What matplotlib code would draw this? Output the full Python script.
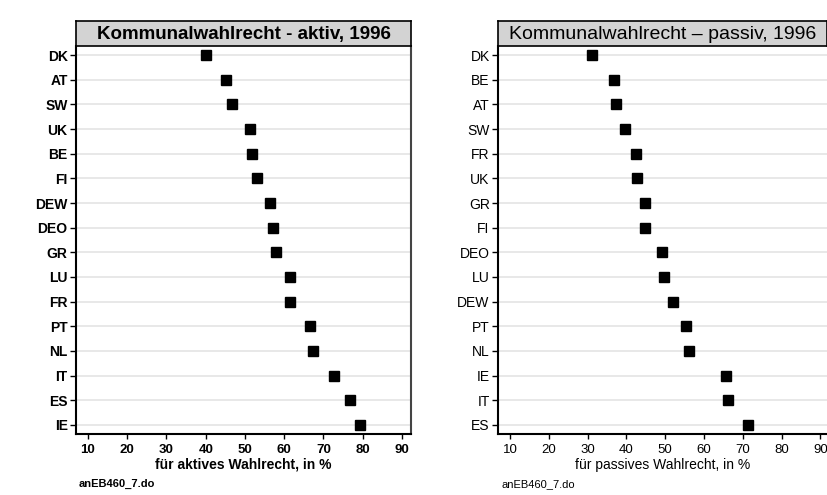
import matplotlib.pyplot as plt
import numpy as np

# left panel: active voting right
land_aktiv = ['DK', 'AT', 'SW', 'UK', 'BE', 'FI', 'DEW', 'DEO',
              'GR', 'LU', 'FR', 'PT', 'NL', 'IT', 'ES', 'IE']
wert_aktiv = [40.0, 45.1, 46.6, 51.3, 51.9, 53.0, 56.5, 57.2,
              57.8, 61.4, 61.5, 66.5, 67.3, 72.7, 76.8, 79.2]

# right panel: passive voting right
land_passiv = ['DK', 'BE', 'AT', 'SW', 'FR', 'UK', 'GR', 'FI',
               'DEO', 'LU', 'DEW', 'PT', 'NL', 'IE', 'IT', 'ES']
wert_passiv = [31.1, 36.7, 37.2, 39.6, 42.5, 42.6, 44.7, 44.8,
               49.1, 49.8, 52.1, 55.4, 56.2, 65.7, 66.1, 71.4]

xticks = [10, 20, 30, 40, 50, 60, 70, 80, 90]

W, H = 827, 495
fig = plt.figure(figsize=(W / 100, H / 100), dpi=100)


def panel(x0, x1, y_top, y_bot, box_top, labels, vals, title, xlabel, note,
          weight, xlim, right_spine, title_size):
    ax = fig.add_axes([x0 / W, 1 - y_bot / H, (x1 - x0) / W, (y_bot - y_top) / H])
    y = np.arange(len(labels))
    for yy in y:
        ax.axhline(yy, color='#e4e4e4', lw=1.2, zorder=1)
    ax.plot(vals, y, 's', color='black', ms=7.2, zorder=3)
    ax.set_ylim(len(labels) - 1 + 0.37, -0.37)
    ax.set_xlim(*xlim)
    ax.set_yticks(y)
    ax.set_yticklabels(labels, fontsize=10, fontweight=weight)
    ax.set_xticks(xticks)
    ax.set_xticklabels([str(t) for t in xticks], fontsize=9.5, fontweight=weight)
    ax.tick_params(axis='y', length=4.5, width=1, pad=1.5)
    ax.tick_params(axis='x', length=3.5, width=1, pad=4)
    ax.set_xlabel(xlabel, fontsize=10, fontweight=weight, labelpad=1)
    ax.spines['top'].set_visible(False)
    ax.spines['left'].set_linewidth(1.5)
    ax.spines['bottom'].set_linewidth(1.5)
    if right_spine:
        ax.spines['right'].set_color('#444444')
        ax.spines['right'].set_linewidth(1.5)
    else:
        ax.spines['right'].set_visible(False)

    # grey title box on top of the plot region
    tb = fig.add_axes([x0 / W, 1 - y_top / H, (x1 - x0) / W, (y_top - box_top) / H])
    tb.set_facecolor('#d3d3d3')
    tb.set_xticks([])
    tb.set_yticks([])
    for s in tb.spines.values():
        s.set_linewidth(1.2)
    tb.text(0.5, 0.45, title, ha='center', va='center', fontsize=title_size,
            fontweight=weight, transform=tb.transAxes)

    fig.text((x0 + 3) / W, 1 - 484 / H, note, fontsize=8, fontweight=weight,
             va='center')
    return ax


plt.rcParams['font.family'] = ['Liberation Sans', 'DejaVu Sans']

panel(76, 411, 46, 434, 21, land_aktiv, wert_aktiv,
      'Kommunalwahlrecht - aktiv, 1996', 'für aktives Wahlrecht, in %',
      'anEB460_7.do', 'bold', (6.95, 92.3), True, 13.5)

panel(498, 827, 46, 434, 21, land_passiv, wert_passiv,
      'Kommunalwahlrecht – passiv, 1996', 'für passives Wahlrecht, in %',
      'anEB460_7.do', 'normal', (6.9, 91.7), False, 14)

fig.savefig('out.png', dpi=100, facecolor='white')
